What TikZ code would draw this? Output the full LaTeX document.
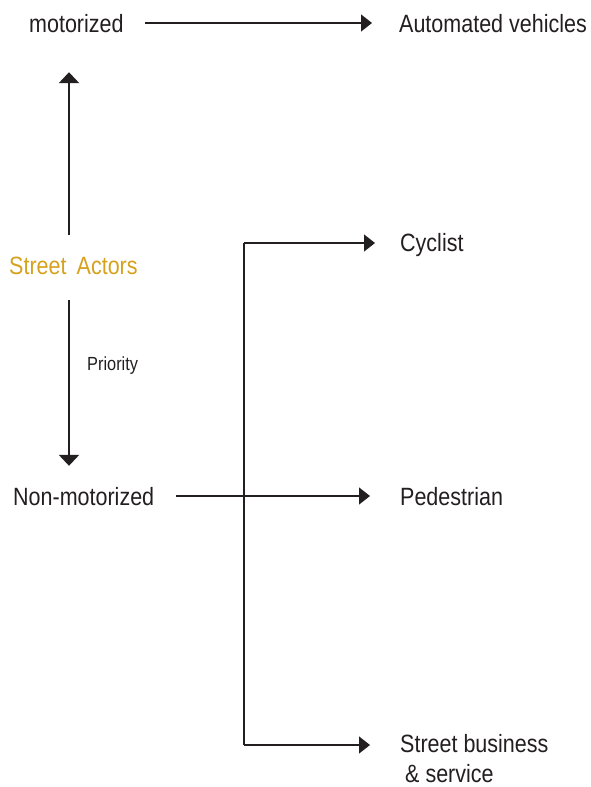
\documentclass[tikz,border=0pt]{standalone}
\usepackage{fontspec}
\setmainfont{Liberation Sans}[FakeStretch=0.86]
\usepackage{tikz}
\usetikzlibrary{arrows.meta}
\definecolor{actorgold}{RGB}{214,162,30}
\definecolor{inkgray}{RGB}{35,31,32}
\tikzstyle{label}=[anchor=west, inner sep=0pt
,text height=18pt, text depth=0pt
,font=\fontsize{25}{30}\selectfont
,text=inkgray
]
\tikzstyle{small label} = [label, text height=14pt, font=\fontsize{19}{22}\selectfont]
\tikzstyle{priority arrow} = [draw=inkgray, line width=2.6pt, -{Triangle[length=11pt,width=20pt]}]
\tikzstyle{branch} = [draw=inkgray, line width=1.3pt, -]
\tikzstyle{branch arrow} = [branch, -{Triangle[length=11pt,width=17pt]}]

\begin{document}
\begin{tikzpicture}[x=1pt,y=-1pt]
    \useasboundingbox (0,0) rectangle (590,787);
    % First the labels on the left and right
    \foreach \pos/\name/\txt in {{(29,23)/motorized/motorized}, {(399,23)/automated/Automated vehicles},
        {(13,496)/nonmotorized/Non-motorized}, {(400,242)/cyclist/Cyclist}, {(400,496)/pedestrian/Pedestrian}}
        \node[label] (\name) at \pos {\txt};
    \node[label, text=actorgold] (actors) at (9,265) {Street\, Actors};
    \node[small label] (priority) at (87,363) {Priority};
    \node[label, anchor=base west, text height=, text depth=, align=left] (business) at (400,782)
        {Street business\\\hspace{5pt}\& service};

    % Priority axis through the street actors
    \coordinate (axis) at (69,0);
    \path[priority arrow, shorten <=21pt, shorten >=40pt] (actors.north -| axis) -- (motorized.south -| axis);
    \path[priority arrow, shorten <=26pt, shorten >=21pt] (actors.south -| axis) -- (nonmotorized.north -| axis);

    % Horizontal arrows
    \path[branch arrow, shorten <=21pt, shorten >=27pt] (motorized.east) -- (automated.west);
    \path[branch arrow, shorten <=22pt, shorten >=30pt] (nonmotorized.east) -- (pedestrian.west);

    % Trunk with its branches
    \coordinate (trunktop) at (244,243);
    \coordinate (trunkbottom) at (244,745);
    \path[branch] (trunktop) -- (trunkbottom);
    \path[branch arrow, shorten >=25pt] (trunktop) -- (trunktop -| cyclist.west);
    \path[branch arrow, shorten >=30pt] (trunkbottom) -- (trunkbottom -| business.west);
\end{tikzpicture}
\end{document}
